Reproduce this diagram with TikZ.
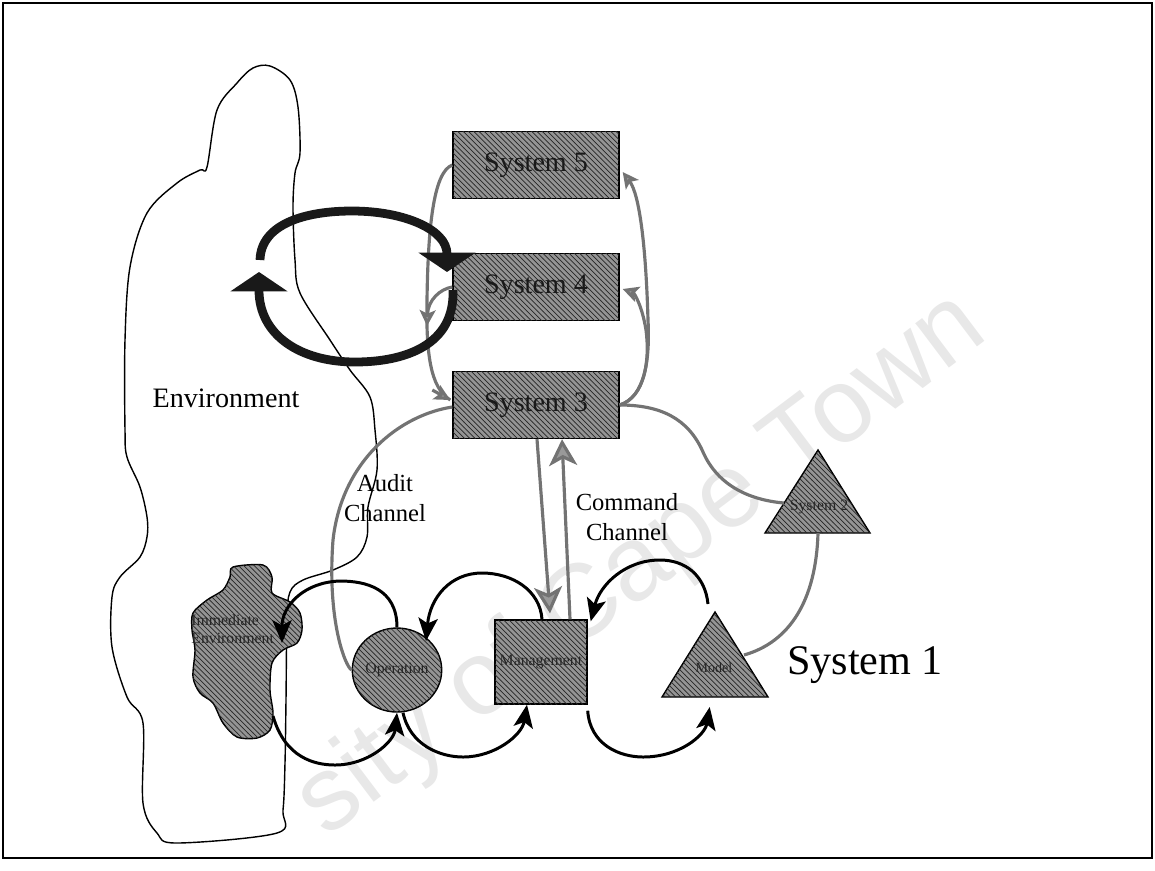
\documentclass[tikz,border=0pt]{standalone}
\usepackage{fontspec}
\setmainfont{Liberation Serif}
\newfontfamily\wmfont{Liberation Sans}
\usetikzlibrary{arrows.meta,patterns,shapes.geometric,calc}

\begin{document}
\begin{tikzpicture}[x=0.02cm,y=-0.02cm,
  hatched/.style={fill=black!42, postaction={pattern=north west lines, pattern color=black!85}, draw=black, line width=0.8pt},
  sysbox/.style={hatched, rectangle, minimum width=3.32cm, minimum height=1.34cm, inner sep=0pt, font=\fontsize{16}{18}\selectfont, text=black!90},
  tinylabel/.style={font=\fontsize{9}{10}\selectfont, text=black!85, inner sep=0pt},
  biglabel/.style={font=\fontsize{16}{18}\selectfont, inner sep=0pt},
  chanlabel/.style={font=\fontsize{14}{17}\selectfont, align=center, inner sep=0pt},
  envline/.style={draw=black, line width=0.8pt},
  flow/.style={draw=black, line width=1.7pt, -{Stealth[length=13pt,width=11pt,inset=3pt]}},
  channel/.style={draw=black!55, line width=1.8pt},
  chanarrow/.style={channel, -{Stealth[length=9pt,width=9pt,inset=2pt,fill=black!40]}},
  cmdarrow/.style={channel, -{Stealth[length=15pt,width=16pt,inset=4pt,fill=black!40]}},
  bigloop/.style={draw=black!90, line width=5pt},
  loophead/.style={bigloop, -{Triangle[length=11pt,width=32pt]}},
  watermark/.style={font=\wmfont\fontsize{60}{60}\selectfont, text=black!9, inner sep=0pt}
]
\useasboundingbox (0,0) rectangle (1155,870);

% faint watermark lettering
\begin{scope}
  \clip (3,3) rectangle (1152,858);
  \node[watermark, rotate=37] (wm) at (642,566) {sity of Cape Town};
\end{scope}

% outer frame
\draw[line width=1pt] (3,3) rectangle (1152,858);

% environment outline
\draw[envline] plot[smooth cycle, tension=0.55] coordinates {
  (270,66) (290,80) (298,107) (300,153) (295,173) (293,207) (295,260) (300,293)
  (330,340) (350,370) (370,397) (375,430) (377,470) (368,507) (367,537) (357,557)
  (333,570) (303,580) (290,592) (287,620) (286,700) (285,763) (283,810) (277,833)
  (177,843) (157,833) (143,803) (143,723) (127,697) (112,647) (112,597) (120,577)
  (140,557) (147,537) (147,517) (140,487) (127,457) (125,430) (125,340) (130,267)
  (147,213) (177,183) (200,170) (207,167) (217,110) (237,83) (253,68)};
\node[biglabel] (env) at (226,398) {Environment};

% immediate environment blob
\path[hatched] plot[smooth cycle, tension=0.5] coordinates {
  (233,567) (263,565) (272,577) (272,593) (290,602) (300,613) (302,630) (297,643)
  (283,650) (272,663) (270,690) (273,713) (270,730) (257,738) (237,737) (223,723)
  (213,703) (200,693) (193,677) (195,650) (192,630) (193,613) (207,600) (223,590) (230,577)};
\node[tinylabel, anchor=west, align=left] (ienv) at (191,629) {Immediate\\Environment};

% system boxes
\node[sysbox] (s5) at (536,165) {System 5};
\node[sysbox] (s4) at (536,287) {System 4};
\node[sysbox] (s3) at (536,405) {System 3};

% operational elements
\node[hatched, ellipse, minimum width=1.48cm, minimum height=1.68cm, inner sep=0pt, tinylabel] (op) at (397,670) {Operation};
\node[hatched, rectangle, minimum width=1.84cm, minimum height=1.68cm, inner sep=0pt, tinylabel] (mgmt) at (541,662) {Management};
\path[hatched] (715,612) coordinate (modelTop) -- (662,697) coordinate (modelL) -- (768,697) coordinate (modelR) -- cycle;
\node[tinylabel, font=\fontsize{8}{9}\selectfont] (model) at (714,668) {Model};
\path[hatched] (818,450) coordinate (s2Top) -- (765,533) coordinate (s2L) -- (870,533) coordinate (s2R) -- cycle;
\node[tinylabel] (s2) at (819,507) {System 2};

% named ends on the triangles
\coordinate (s2in) at (784,503);
\coordinate (s2bot) at (818,533);
\coordinate (modelSide) at (744,655);
\coordinate (modelApex) at (708,604);

% channels between the upper systems
\draw[channel] (s5.west) .. controls (433,172) and (428,230) .. (427,300)
  .. controls (426,352) and (430,388) .. ($(s3.west)+(-2,-5)$);
\draw[chanarrow] ($(s3.west)+(-20,-15)$) -- ($(s3.west)+(-2,-5)$);
\draw[chanarrow] (s4.west) .. controls (440,289) and (428,300) .. (427,326);
\draw[chanarrow] (s3.east) .. controls (645,397) and (650,360) .. (648,320)
  .. controls (646,250) and (640,195) .. ($(s5.east)+(3,7)$);
\draw[chanarrow] (s3.east) .. controls (645,397) and (650,360) .. (646,330)
  .. controls (642,305) and (634,293) .. ($(s4.east)+(3,2)$);

% system 3 to system 2 and system 2 to the model
\draw[channel] (s3.east) .. controls (660,405) and (688,418) .. (703,452)
  .. controls (718,486) and (750,500) .. (s2in);
\draw[channel] (s2bot) .. controls (816,600) and (790,642) .. (modelSide);

% audit channel
\draw[channel] ($(s3.west)+(0,2)$) .. controls (400,415) and (342,460) .. (333,540)
  .. controls (327,620) and (345,666) .. (op.west);

% command channel
\draw[cmdarrow] ($(s3.south)+(1,0)$) -- ($(mgmt.north)+(9,-6)$);
\draw[cmdarrow] ($(mgmt.north)+(29,0)$) -- ($(s3.south)+(26,0)$);

% operational loops
\draw[flow] (op.north) .. controls (397,588) and (365,581) .. (340,581)
  .. controls (305,582) and (282,605) .. (282,643);
\draw[flow] (273,716) .. controls (285,758) and (315,765) .. (335,765)
  .. controls (368,765) and (394,742) .. (op.south);
\draw[flow] ($(op.south)+(6,0)$) .. controls (410,745) and (440,757) .. (463,757)
  .. controls (495,757) and (522,735) .. ($(mgmt.south)+(-14,0)$);
\draw[flow] ($(mgmt.south east)+(0,6)$) .. controls (590,745) and (620,757) .. (643,757)
  .. controls (680,757) and (705,735) .. ($(modelL)!0.45!(modelR)+(0,10)$);
\draw[flow] ($(mgmt.north)+(1,0)$) .. controls (540,590) and (512,573) .. (482,573)
  .. controls (450,573) and (430,598) .. (426,641);
\draw[flow] (modelApex) .. controls (705,575) and (685,560) .. (660,560)
  .. controls (625,560) and (600,585) .. ($(mgmt.north east)+(3,2)$);

% management loop between system 4 and the environment
\coordinate (loopA) at (260,260);
\coordinate (loopB) at (447,272);
\coordinate (loopC) at (453,290);
\coordinate (loopD) at (259,272);
\draw[loophead] (loopA) .. controls (261,224) and (305,211) .. (352,211)
  .. controls (405,211) and (447,230) .. (loopB);
\draw[loophead] (loopC) .. controls (455,345) and (405,362) .. (355,362)
  .. controls (300,362) and (259,335) .. (loopD);

% labels
\node[chanlabel] (audit) at (385,498) {Audit\\Channel};
\node[chanlabel] (command) at (627,517) {Command\\Channel};
\node[font=\fontsize{24}{26}\selectfont, inner sep=0pt] (s1) at (865,665) {System 1};
\end{tikzpicture}
\end{document}
